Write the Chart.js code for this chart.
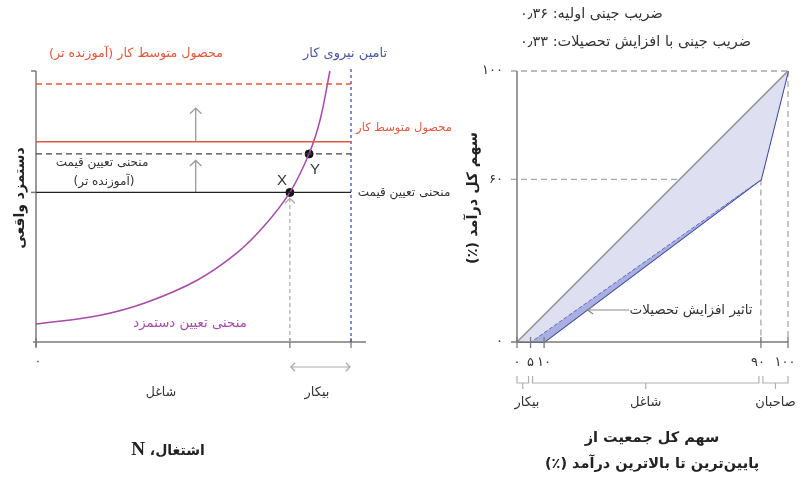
<!DOCTYPE html>
<html>
<head>
<meta charset="utf-8">
<script src="https://cdn.jsdelivr.net/npm/chart.js@4.4.1/dist/chart.umd.min.js"></script>
<style>
  html, body { margin: 0; padding: 0; background: #fff; }
  #wrap { position: relative; width: 810px; height: 489px; overflow: hidden; }
  .box { position: absolute; top: 0; height: 489px; }
</style>
</head>
<body>
<div id="wrap">
  <div class="box" style="left:0;width:470px"><canvas id="chartLabour"></canvas></div>
  <div class="box" style="left:440px;width:370px"><canvas id="chartLorenz"></canvas></div>
</div>
<script>
// ─── Left panel: labour market (values in % of labour force / wage index) ─────
const wageCurveN = [0, 20, 35, 51, 63.7, 72.2, 80.6, 86.8, 90.2, 93.3];
const wageCurveW = [6.6, 9.8, 14.6, 22.7, 32.8, 42.5, 55.2, 69.8, 82, 100];
const labourForce = 100;
const priceSetWage = 55.2;      // price-setting curve
const priceSetWageEdu = 69.4;   // price-setting curve (more educated)
const avgProduct = 73.9;        // average product of labour
const avgProductEdu = 95.2;     // average product of labour (more educated)
const pointX = [80.6, 55.2];
const pointY = [86.7, 69.4];
const shiftArrowN = 50.7;

// ─── Right panel: Lorenz curves ───────────────────────────────────────────────
const equalityX = [0, 100];
const equalityY = [0, 100];
const lorenzBaseX = [0, 10, 90, 100];
const lorenzBaseY = [0, 0, 60, 100];
const lorenzEduX = [0, 5, 90, 100];
const lorenzEduY = [0, 0, 60, 100];
const popTicks = [0, 5, 10, 90, 100];
const popTickLabels = ['۰', '۵', '۱۰', '۹۰', '۱۰۰'];
const incomeTicks = [0, 60, 100];
const incomeTickLabels = ['۰', '۶۰', '۱۰۰'];
const groups = [
  { from: 0, to: 5, label: 'بیکار' },
  { from: 5, to: 90, label: 'شاغل' },
  { from: 90, to: 100, label: 'صاحبان' },
];
const giniBase = '۰٫۳۶';
const giniEdu = '۰٫۳۳';

const FONT = '"DejaVu Sans", sans-serif';
const RED = '#e4573d';
const BLUE = '#4b55a8';
const PURPLE = '#a54ca8';
const GREY = '#9a9a9a';
const AXIS = '#7a7a7a';
const TEXT = '#333';

const pts = (xs, ys) => xs.map((x, i) => ({ x, y: ys[i] }));
const hline = (y, x0, x1) => [{ x: x0, y }, { x: x1, y }];
const vline = (x, y0, y1) => [{ x, y: y0 }, { x, y: y1 }];

function txt(ctx, s, x, y, o = {}) {
  ctx.save();
  ctx.direction = 'rtl';
  ctx.font = `${o.weight || 'normal'} ${o.size || 13}px ${o.family || FONT}`;
  ctx.fillStyle = o.color || TEXT;
  ctx.textAlign = o.align || 'center';
  ctx.textBaseline = 'middle';
  if (o.rotate) {
    ctx.translate(x, y);
    ctx.rotate(o.rotate);
    ctx.fillText(s, 0, 0);
  } else {
    ctx.fillText(s, x, y);
  }
  ctx.restore();
}

function seg(ctx, x1, y1, x2, y2, color, width = 1.3, dash = []) {
  ctx.save();
  ctx.strokeStyle = color; ctx.lineWidth = width; ctx.setLineDash(dash);
  ctx.beginPath(); ctx.moveTo(x1, y1); ctx.lineTo(x2, y2); ctx.stroke();
  ctx.restore();
}

function head(ctx, xa, ya, xb, yb, color, h = 8, spread = 0.75) {
  const a = Math.atan2(yb - ya, xb - xa);
  ctx.save();
  ctx.strokeStyle = color; ctx.lineWidth = 1.3;
  ctx.beginPath();
  ctx.moveTo(xb - h * Math.cos(a - spread), yb - h * Math.sin(a - spread));
  ctx.lineTo(xb, yb);
  ctx.lineTo(xb - h * Math.cos(a + spread), yb - h * Math.sin(a + spread));
  ctx.stroke();
  ctx.restore();
}

const baseOptions = (padding) => ({
  responsive: true, maintainAspectRatio: false, animation: false,
  layout: { padding },
  plugins: { legend: { display: false }, tooltip: { enabled: false } },
  elements: { point: { radius: 0 }, line: { tension: 0 } },
  scales: {
    x: { type: 'linear', min: 0, max: 100, display: false },
    y: { type: 'linear', min: 0, max: 100, display: false },
  },
});

// ─── Labour market chart ──────────────────────────────────────────────────────
const labourDecor = {
  id: 'labourDecor',
  beforeDatasetsDraw(chart) {
    const { ctx, scales: { x, y } } = chart;
    const x0 = x.getPixelForValue(0), y0 = y.getPixelForValue(0);
    const xL = x.getPixelForValue(labourForce), yTop = y.getPixelForValue(100);
    const xE = x.getPixelForValue(pointX[0]);
    // axes
    seg(ctx, x0, yTop, x0, y0 + 5, AXIS, 1.5);
    seg(ctx, x0 - 3, y0, xL + 15, y0, AXIS, 1.5);
    seg(ctx, x0 - 5, yTop, x0, yTop, AXIS, 1.5);
    seg(ctx, x0 - 5, y.getPixelForValue(priceSetWage), x0, y.getPixelForValue(priceSetWage), AXIS, 1.5);
    [0, pointX[0], labourForce].forEach(v => {
      const px = x.getPixelForValue(v);
      seg(ctx, px, y0 - 4, px, y0 + 6, AXIS, 1.3);
    });
    // employment drop line with arrow
    const yW = y.getPixelForValue(priceSetWage);
    seg(ctx, xE, y0, xE, yW + 6, '#aaa', 1.2, [4, 3]);
    head(ctx, xE, yW + 20, xE, yW + 6, '#aaa', 7, 0.8);
    // shift arrows
    const xa = x.getPixelForValue(shiftArrowN);
    seg(ctx, xa, yW, xa, y.getPixelForValue(67), GREY, 1.3);
    head(ctx, xa, yW, xa, y.getPixelForValue(67), GREY, 8, 0.8);
    const yA = y.getPixelForValue(avgProduct);
    seg(ctx, xa, yA, xa, y.getPixelForValue(86.3), GREY, 1.3);
    head(ctx, xa, yA, xa, y.getPixelForValue(86.3), GREY, 8, 0.8);
  },
  afterDraw(chart) {
    const { ctx, scales: { x, y } } = chart;
    const xL = x.getPixelForValue(labourForce), y0 = y.getPixelForValue(0);
    const xE = x.getPixelForValue(pointX[0]);
    txt(ctx, 'محصول متوسط کار (آموزنده تر)', 136, 54, { color: RED, size: 12.7 });
    txt(ctx, 'تامین نیروی کار', 345, 54, { color: BLUE, size: 13 });
    txt(ctx, 'محصول متوسط کار', xL + 53, y.getPixelForValue(avgProduct) - 14, { color: RED, size: 11.5 });
    txt(ctx, 'منحنی تعیین قیمت', xL + 53, y.getPixelForValue(priceSetWage), { size: 12 });
    txt(ctx, 'منحنی تعیین قیمت', 102, 163, { size: 12 });
    txt(ctx, '(آموزنده تر)', 104, 182, { size: 12 });
    txt(ctx, 'منحنی تعیین دستمزد', 190, 324, { color: PURPLE, size: 13.3 });
    txt(ctx, 'X', x.getPixelForValue(pointX[0]) - 8, y.getPixelForValue(pointX[1]) - 12, { size: 15, family: '"Liberation Sans", sans-serif' });
    txt(ctx, 'Y', x.getPixelForValue(pointY[0]) + 6, y.getPixelForValue(pointY[1]) + 16, { size: 15, family: '"Liberation Sans", sans-serif' });
    txt(ctx, '۰', x.getPixelForValue(0) + 2, y0 + 20, { size: 12 });
    seg(ctx, xE + 1, y0 + 25, xL - 1, y0 + 25, '#aaa', 1.2);
    head(ctx, xL, y0 + 25, xE + 1, y0 + 25, '#aaa', 6, 0.8);
    head(ctx, xE, y0 + 25, xL - 1, y0 + 25, '#aaa', 6, 0.8);
    txt(ctx, 'شاغل', 161, 393, { size: 12.5 });
    txt(ctx, 'بیکار', 317, 393, { size: 13 });
    // axis titles
    txt(ctx, 'دستمزد واقعی', 20, 198, { size: 14, weight: 'bold', rotate: -Math.PI / 2, color: '#222' });
    ctx.save();
    ctx.font = `bold 14px ${FONT}`;
    const wA = ctx.measureText('اشتغال، ').width;
    ctx.font = 'bold 19px "Liberation Serif", serif';
    const wN = ctx.measureText('N').width;
    ctx.restore();
    const left = 168 - (wA + wN) / 2;
    txt(ctx, 'N', left, 450, { size: 19, weight: 'bold', align: 'left', family: '"Liberation Serif", serif', color: '#222' });
    txt(ctx, 'اشتغال، ', left + wN + wA, 451, { size: 14, weight: 'bold', align: 'right', color: '#222' });
  },
};

new Chart(document.getElementById('chartLabour'), {
  type: 'line',
  data: {
    datasets: [
      { data: hline(avgProductEdu, 0, labourForce), borderColor: RED, borderWidth: 1.4, borderDash: [6, 4], clip: false },
      { data: hline(avgProduct, 0, labourForce), borderColor: RED, borderWidth: 1.6, clip: false },
      { data: hline(priceSetWageEdu, 0, labourForce), borderColor: '#444', borderWidth: 1.3, borderDash: [6, 4], clip: false },
      { data: hline(priceSetWage, 0, labourForce), borderColor: '#222', borderWidth: 1.4, clip: false },
      { data: vline(labourForce, 0, 101.5), borderColor: '#3d4fc4', borderWidth: 1.3, borderDash: [3, 3], clip: false },
      { data: pts(wageCurveN, wageCurveW), borderColor: PURPLE, borderWidth: 1.5, tension: 0.4, clip: false },
      { data: [{ x: pointX[0], y: pointX[1] }, { x: pointY[0], y: pointY[1] }], showLine: false,
        pointRadius: 4, pointBackgroundColor: '#111', pointBorderColor: '#111', clip: false },
    ],
  },
  options: baseOptions({ left: 36, right: 119, top: 71, bottom: 147 }),
  plugins: [labourDecor],
});

// ─── Lorenz chart ─────────────────────────────────────────────────────────────
const lorenzDecor = {
  id: 'lorenzDecor',
  beforeDatasetsDraw(chart) {
    const { ctx, scales: { x, y } } = chart;
    const x0 = x.getPixelForValue(0), y0 = y.getPixelForValue(0);
    const x100 = x.getPixelForValue(100), yTop = y.getPixelForValue(100);
    const y60 = y.getPixelForValue(60), x90 = x.getPixelForValue(90);
    const gd = '#a8a8a8';
    seg(ctx, x0 - 6, yTop, x100, yTop, gd, 1.3, [6, 4]);
    seg(ctx, x0 - 6, y60, x90, y60, gd, 1.3, [6, 4]);
    seg(ctx, x90, y60, x90, y0, gd, 1.3, [6, 4]);
    seg(ctx, x100, yTop, x100, y0, gd, 1.3, [6, 4]);
  },
  afterDatasetsDraw(chart) {
    const { ctx, scales: { x, y } } = chart;
    const x0 = x.getPixelForValue(0), y0 = y.getPixelForValue(0);
    const x100 = x.getPixelForValue(100), yTop = y.getPixelForValue(100);
    seg(ctx, x0, yTop, x0, y0, AXIS, 1.5);
    seg(ctx, x0 - 6, y0, x100, y0, AXIS, 1.5);
    popTicks.forEach((v, i) => {
      const px = x.getPixelForValue(v);
      seg(ctx, px, y0 - 5, px, y0 + 6, AXIS, 1.3);
      txt(ctx, popTickLabels[i], px - (v >= 90 ? 3 : 0), y0 + 21, { size: 13 });
    });
    incomeTicks.forEach((v, i) => {
      txt(ctx, incomeTickLabels[i], x0 - 14, y.getPixelForValue(v), { size: 13, align: 'right' });
    });
    // group brackets
    const yb = y0 + 41;
    groups.forEach((g, i) => {
      const a = x.getPixelForValue(g.from) + (i ? 2 : 0);
      const b = x.getPixelForValue(g.to) - (i < groups.length - 1 ? 2 : 0);
      ctx.save();
      ctx.strokeStyle = '#b0b0b0'; ctx.lineWidth = 1.2;
      ctx.beginPath();
      ctx.moveTo(a, yb - 7); ctx.lineTo(a, yb); ctx.lineTo(b, yb); ctx.lineTo(b, yb - 7);
      ctx.moveTo((a + b) / 2, yb); ctx.lineTo((a + b) / 2, yb + 6);
      ctx.stroke();
      ctx.restore();
      const cx = i === 0 ? a + 10 : (a + b) / 2;
      txt(ctx, g.label, cx, yb + 20, { size: 13 });
    });
    // annotation arrow
    const tipX = x.getPixelForValue(26), tipY = y.getPixelForValue(11.8);
    seg(ctx, tipX, tipY, 189, tipY, '#8a8a8a', 1.2);
    head(ctx, 189, tipY, tipX, tipY, '#8a8a8a', 7, 0.6);
    txt(ctx, 'تاثیر افزایش تحصیلات', 251, tipY, { size: 13.5 });
  },
  afterDraw(chart) {
    const { ctx } = chart;
    txt(ctx, 'ضریب جینی اولیه: ' + giniBase, 80, 14, { size: 14.5, align: 'left' });
    txt(ctx, 'ضریب جینی با افزایش تحصیلات: ' + giniEdu, 80, 42, { size: 14.5, align: 'left' });
    txt(ctx, 'سهم کل درآمد (٪)', 33, 198, { size: 14.5, weight: 'bold', rotate: -Math.PI / 2, color: '#222' });
    txt(ctx, 'سهم کل جمعیت از', 212, 438, { size: 14.5, weight: 'bold', color: '#222' });
    txt(ctx, 'پایین‌ترین تا بالاترین درآمد (٪)', 212, 464, { size: 14.5, weight: 'bold', color: '#222' });
  },
};

new Chart(document.getElementById('chartLorenz'), {
  type: 'line',
  data: {
    datasets: [
      { data: pts(equalityX, equalityY), borderColor: '#8c8c8c', borderWidth: 1.4,
        fill: '+1', backgroundColor: '#dee0f1', clip: false },
      { data: pts(lorenzEduX, lorenzEduY), borderColor: '#3c4aa6', borderWidth: 1.2, borderDash: [4, 2],
        fill: '+1', backgroundColor: '#a9afe0', clip: false },
      { data: pts(lorenzBaseX, lorenzBaseY), borderColor: '#3c4aa6', borderWidth: 2, clip: false },
    ],
  },
  options: baseOptions({ left: 77, right: 22, top: 71, bottom: 147 }),
  plugins: [lorenzDecor],
});
</script>
</body>
</html>
